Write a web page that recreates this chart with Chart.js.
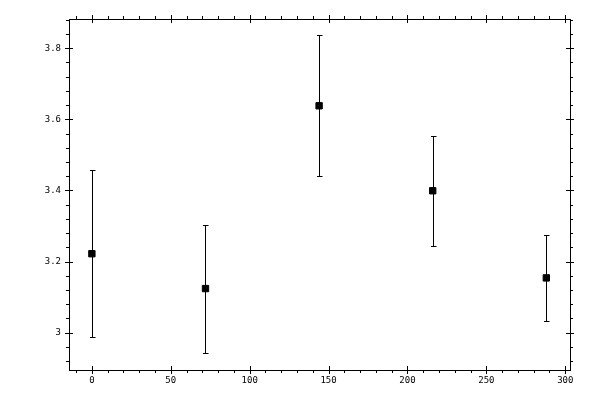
<!DOCTYPE html>
<html>
<head>
<meta charset="utf-8">
<script src="https://cdn.jsdelivr.net/npm/chart.js@4/dist/chart.umd.min.js"></script>
<style>
  html, body { margin: 0; padding: 0; background: #fff; }
  #wrap { width: 600px; height: 400px; }
</style>
</head>
<body>
<div id="wrap"><canvas id="chart"></canvas></div>
<script>
// dados
const xValues = [0, 72, 144, 216, 288];
const yValues = [3.222, 3.124, 3.638, 3.399, 3.154];
const yLow = [2.987, 2.944, 3.441, 3.244, 3.034];
const yHigh = [3.457, 3.302, 3.837, 3.553, 3.275];

const xTicks = [0, 50, 100, 150, 200, 250, 300];
const yTicks = [3, 3.2, 3.4, 3.6, 3.8];
const xMinorStep = 10;
const yMinorStep = 0.04;

const xMin = -14.5, xMax = 303;
const yMin = 2.895, yMax = 3.882;

// Plugin: moldura, marcas de escala nos 4 lados e barras de erro
const framePlugin = {
  id: 'frame',
  afterDraw(chart) {
    const ctx = chart.ctx;
    const a = chart.chartArea;
    const sx = chart.scales.x;
    const sy = chart.scales.y;
    ctx.save();
    ctx.strokeStyle = '#000';
    ctx.lineWidth = 1;

    // moldura
    ctx.strokeRect(Math.round(a.left) + 0.5, Math.round(a.top) + 0.5,
      Math.round(a.right - a.left), Math.round(a.bottom - a.top));

    ctx.beginPath();
    // marcas em x (menores para fora, maiores atravessam)
    for (let v = Math.ceil(xMin / xMinorStep) * xMinorStep; v <= xMax; v += xMinorStep) {
      const px = Math.round(sx.getPixelForValue(v)) + 0.5;
      const major = xTicks.includes(v);
      const out = major ? 4 : 3;
      const inn = major ? 4 : 0;
      ctx.moveTo(px, a.bottom - inn); ctx.lineTo(px, a.bottom + out);
      ctx.moveTo(px, a.top + inn); ctx.lineTo(px, a.top - out);
    }
    // marcas em y
    for (let i = Math.ceil(yMin / yMinorStep); i * yMinorStep <= yMax; i++) {
      const v = i * yMinorStep;
      const py = Math.round(sy.getPixelForValue(v)) + 0.5;
      const major = yTicks.some(t => Math.abs(t - v) < 1e-6);
      const out = major ? 4 : 3;
      const inn = major ? 4 : 0;
      ctx.moveTo(a.left + inn, py); ctx.lineTo(a.left - out, py);
      ctx.moveTo(a.right - inn, py); ctx.lineTo(a.right + out, py);
    }
    ctx.stroke();
    ctx.restore();
  },
  afterDatasetsDraw(chart) {
    const ctx = chart.ctx;
    const sx = chart.scales.x;
    const sy = chart.scales.y;
    ctx.save();
    ctx.strokeStyle = '#000';
    ctx.lineWidth = 1;
    ctx.beginPath();
    xValues.forEach((x, i) => {
      const px = Math.round(sx.getPixelForValue(x)) + 0.5;
      const pLo = Math.round(sy.getPixelForValue(yLow[i])) + 0.5;
      const pHi = Math.round(sy.getPixelForValue(yHigh[i])) + 0.5;
      ctx.moveTo(px, pLo); ctx.lineTo(px, pHi);
      ctx.moveTo(px - 2.5, pLo); ctx.lineTo(px + 3, pLo);
      ctx.moveTo(px - 2.5, pHi); ctx.lineTo(px + 3, pHi);
    });
    ctx.stroke();
    ctx.restore();
  }
};

const fonte = { family: 'DejaVu Sans Mono', size: 9 };

new Chart(document.getElementById('chart'), {
  type: 'scatter',
  data: {
    datasets: [{
      data: xValues.map((x, i) => ({ x: x, y: yValues[i] })),
      pointStyle: 'rect',
      pointRadius: 4.5,
      backgroundColor: '#000',
      borderColor: '#000',
      borderWidth: 1
    }]
  },
  options: {
    responsive: true,
    maintainAspectRatio: false,
    animation: false,
    layout: { padding: { top: 19, right: 30, left: 0, bottom: 0 } },
    plugins: {
      legend: { display: false },
      tooltip: { enabled: false }
    },
    scales: {
      x: {
        type: 'linear',
        min: xMin,
        max: xMax,
        afterBuildTicks: s => { s.ticks = xTicks.map(v => ({ value: v })); },
        afterFit: s => { s.height = 30; },
        ticks: { color: '#000', font: fonte, padding: 5, maxRotation: 0 },
        grid: { display: false, drawTicks: false },
        border: { display: false }
      },
      y: {
        type: 'linear',
        min: yMin,
        max: yMax,
        afterBuildTicks: s => { s.ticks = yTicks.map(v => ({ value: v })); },
        afterFit: s => { s.width = 69; },
        ticks: {
          color: '#000',
          font: fonte,
          padding: 8,
          callback: v => String(Math.round(v * 10) / 10)
        },
        grid: { display: false, drawTicks: false },
        border: { display: false }
      }
    }
  },
  plugins: [framePlugin]
});
</script>
</body>
</html>
